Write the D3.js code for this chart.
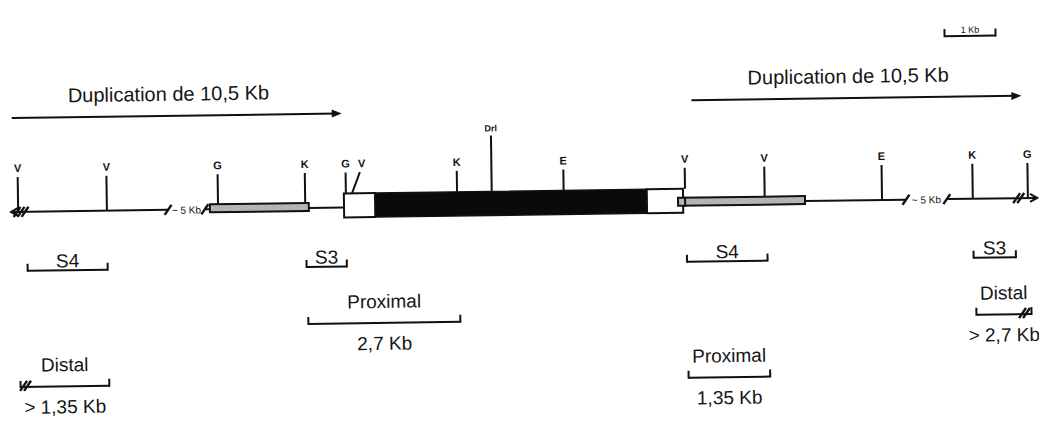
<!DOCTYPE html>
<meta charset="utf-8">
<style>
body { margin: 0; background: #fff; }
text { font-family: "Liberation Sans", Arial, sans-serif; fill: #151515; }
.site { font-size: 11px; font-weight: bold; }
.dup { font-size: 20px; }
.lab { font-size: 19px; }
.small { font-size: 10px; }
</style>
<svg width="1039" height="422"></svg>
<script src="https://d3js.org/d3.v7.min.js"></script>
<script>

// restriction sites along the map (kb)
var siteNames = ["V", "V", "G", "K", "G", "V", "K", "Drl", "E", "V", "V", "E", "K", "G"],
    siteKb    = [0.12, 1.86, 4.04, 5.75, 6.55, 6.67, 8.73, 9.41, 10.82, 13.20, 14.76, 17.06, 18.84, 19.92],
    siteLean  = [0, 0, 0, 0, 0, 0.16, 0, 0, 0, 0, 0, 0, 0, 0],
    siteTall  = [0, 0, 0, 0, 0, 0, 0, 1, 0, 0, 0, 0, 0, 0];

// map pieces (kb)
var lineSegs  = [[0, 3.06], [3.78, 3.88], [5.82, 6.51], [15.55, 17.53], [18.33, 20.06]],
    breakKb   = [3.06, 3.78, 17.53, 18.33],
    breakText = [3.42, 17.93],
    grayBars  = [[3.88, 5.82], [13.06, 15.55]],
    whiteBox  = [[6.51, 7.12], [12.45, 13.16]],
    blackBox  = [[7.12, 12.45]];

// duplications
var dupStart = [0.02, 13.35],
    dupEnd   = [6.49, 19.82],
    dupLabel = ["Duplication de 10,5 Kb", "Duplication de 10,5 Kb"];

// probes S3 / S4
var probeNames = ["S4", "S3", "S4", "S3"],
    probeStart = [0.29, 5.76, 13.22, 18.84],
    probeEnd   = [1.86, 6.55, 14.80, 19.67];

// proximal / distal fragments
var fragNames = ["Proximal", "Distal", "Proximal", "Distal"],
    fragSize  = ["2,7 Kb", "> 1,35 Kb", "1,35 Kb", "> 2,7 Kb"],
    fragStart = [5.78, 0.12, 13.22, 18.88],
    fragEnd   = [8.76, 1.86, 14.82, 19.96],
    fragRow   = [0, 1, 1, 0],
    fragBreak = ["", "left", "", "right"];

var scaleBarKb = [18.33, 19.33];

var svg = d3.select("svg");

var x = d3.scaleLinear().domain([0, 20]).range([12, 1032]),
    row = d3.scaleOrdinal().domain([0, 1]).range([321, 380]);

var lineY = 205, boxTop = 191, boxBot = 215, barTop = 200, barBot = 208;

// the scanned figure is slightly tilted
var g = svg.append("g").attr("transform", "rotate(-0.79,520,205)");

function slash(sel, cx, cy) {
  sel.append("line")
      .attr("x1", cx - 3.5).attr("y1", cy + 5)
      .attr("x2", cx + 3.5).attr("y2", cy - 5)
      .attr("stroke", "#111").attr("stroke-width", 2.4);
}

// main line
g.selectAll(".seg").data(lineSegs).enter().append("line")
    .attr("class", "seg")
    .attr("x1", function(d) { return x(d[0]); })
    .attr("x2", function(d) { return x(d[1]); })
    .attr("y1", lineY).attr("y2", lineY)
    .attr("stroke", "#111").attr("stroke-width", 2);

breakKb.forEach(function(k) { slash(g, x(k), lineY); });

g.selectAll(".brk").data(breakText).enter().append("text")
    .attr("class", "small")
    .attr("text-anchor", "middle")
    .attr("x", function(d) { return x(d); })
    .attr("y", lineY + 4)
    .text("~ 5 Kb");

// left end: arrow + triple break
var lx = x(0) - 1;
g.append("path")
    .attr("d", "M" + (lx + 7) + "," + (lineY - 4) + "L" + lx + "," + lineY + "L" + (lx + 7) + "," + (lineY + 4))
    .attr("fill", "none").attr("stroke", "#111").attr("stroke-width", 2);
[6, 10, 14].forEach(function(o) { slash(g, lx + o, lineY); });

// right end: double break + arrow
var rx = x(20.1);
[x(19.7), x(19.78)].forEach(function(v) { slash(g, v, lineY); });
g.append("path")
    .attr("d", "M" + (rx - 7) + "," + (lineY - 4) + "L" + rx + "," + lineY + "L" + (rx - 7) + "," + (lineY + 4))
    .attr("fill", "none").attr("stroke", "#111").attr("stroke-width", 2);

// gray (duplicated) bars
g.selectAll(".gray").data(grayBars).enter().append("rect")
    .attr("x", function(d) { return x(d[0]); })
    .attr("width", function(d) { return x(d[1]) - x(d[0]); })
    .attr("y", barTop).attr("height", barBot - barTop)
    .attr("fill", "#b4b4b4").attr("stroke", "#111").attr("stroke-width", 2);

// gene boxes
g.selectAll(".blk").data(blackBox).enter().append("rect")
    .attr("x", function(d) { return x(d[0]); })
    .attr("width", function(d) { return x(d[1]) - x(d[0]); })
    .attr("y", boxTop).attr("height", boxBot - boxTop)
    .attr("fill", "#0a0a0a").attr("stroke", "#111").attr("stroke-width", 1.5);

g.selectAll(".wht").data(whiteBox).enter().append("rect")
    .attr("x", function(d) { return x(d[0]); })
    .attr("width", function(d) { return x(d[1]) - x(d[0]); })
    .attr("y", boxTop).attr("height", boxBot - boxTop)
    .attr("fill", "#fff").attr("stroke", "#111").attr("stroke-width", 2);

// gray bar passes over the right white box
g.append("rect")
    .attr("x", x(grayBars[1][0])).attr("width", x(whiteBox[1][1]) - x(grayBars[1][0]) + 2)
    .attr("y", barTop).attr("height", barBot - barTop)
    .attr("fill", "#b4b4b4").attr("stroke", "#111").attr("stroke-width", 2);

// restriction sites
function baseOf(k) {
  var inBox = whiteBox.concat(blackBox).some(function(b) { return k >= b[0] && k <= b[1] + 0.06; });
  if (inBox) return boxTop;
  var onBar = grayBars.some(function(b) { return k >= b[0] && k <= b[1]; });
  return onBar ? barTop : lineY;
}

var sites = g.selectAll(".site").data(siteNames).enter().append("g");

sites.append("line")
    .attr("x1", function(d, i) { return x(siteKb[i]); })
    .attr("y1", function(d, i) { return baseOf(siteKb[i]); })
    .attr("x2", function(d, i) { return x(siteKb[i] + siteLean[i]); })
    .attr("y2", function(d, i) { return siteTall[i] ? 135 : 170; })
    .attr("stroke", "#111").attr("stroke-width", 2);

sites.append("text")
    .attr("class", "site")
    .attr("text-anchor", "middle")
    .attr("x", function(d, i) { return x(siteKb[i] + siteLean[i]) + (siteLean[i] ? 2 : 0); })
    .attr("y", function(d, i) { return siteTall[i] ? 131 : 165; })
    .style("font-size", function(d) { return d === "Drl" ? "9px" : null; })
    .text(function(d) { return d; });

// duplication arrows
var dups = g.selectAll(".dup").data(dupLabel).enter().append("g");

dups.append("line")
    .attr("x1", function(d, i) { return x(dupStart[i]); })
    .attr("x2", function(d, i) { return x(dupEnd[i]) - 4; })
    .attr("y1", function(d, i) { return i ? 102.7 : 111; })
    .attr("y2", function(d, i) { return i ? 102.7 : 111; })
    .attr("stroke", "#111").attr("stroke-width", 2);

dups.append("path")
    .attr("d", function(d, i) {
      var tx = x(dupEnd[i]), ty = i ? 102.7 : 111;
      return "M" + tx + "," + ty + "L" + (tx - 10) + "," + (ty - 4) + "L" + (tx - 10) + "," + (ty + 4) + "Z";
    })
    .attr("fill", "#111");

dups.append("text")
    .attr("class", "dup")
    .attr("text-anchor", "middle")
    .attr("x", function(d, i) { return x((dupStart[i] + dupEnd[i]) / 2) - 8; })
    .attr("y", function(d, i) { return i ? 87.6 : 96; })
    .text(function(d) { return d; });

// bracket helper
function bracket(sel, a, b, y, brk) {
  var x0 = x(a), x1 = x(b);
  sel.append("line").attr("x1", x0).attr("x2", x1).attr("y1", y).attr("y2", y)
      .attr("stroke", "#111").attr("stroke-width", 2);
  if (brk !== "left") sel.append("line").attr("x1", x0).attr("x2", x0).attr("y1", y + 1).attr("y2", y - 7)
      .attr("stroke", "#111").attr("stroke-width", 2);
  if (brk !== "right") sel.append("line").attr("x1", x1).attr("x2", x1).attr("y1", y + 1).attr("y2", y - 7)
      .attr("stroke", "#111").attr("stroke-width", 2);
  if (brk === "left") {
    sel.append("line").attr("x1", x0).attr("x2", x0).attr("y1", y + 1).attr("y2", y - 6)
        .attr("stroke", "#111").attr("stroke-width", 2);
    [3, 7].forEach(function(o) { slash(sel, x0 + o, y - 1); });
  }
  if (brk === "right") {
    sel.append("line").attr("x1", x1).attr("x2", x1).attr("y1", y + 1).attr("y2", y - 7)
        .attr("stroke", "#111").attr("stroke-width", 2);
    [-9, -5].forEach(function(o) { slash(sel, x1 + o, y - 1); });
  }
}

// probes
var probeY = 264;
probeNames.forEach(function(n, i) {
  var p = g.append("g");
  bracket(p, probeStart[i], probeEnd[i], probeY, "");
  p.append("text").attr("class", "lab").attr("text-anchor", "middle")
      .attr("x", x((probeStart[i] + probeEnd[i]) / 2))
      .attr("y", probeY - 3)
      .text(n);
});

// proximal / distal fragments
fragNames.forEach(function(n, i) {
  var f = g.append("g"), y = row(fragRow[i]), cx = x((fragStart[i] + fragEnd[i]) / 2);
  bracket(f, fragStart[i], fragEnd[i], y, fragBreak[i]);
  f.append("text").attr("class", "lab").attr("text-anchor", "middle")
      .attr("x", cx).attr("y", y - 15).text(n);
  f.append("text").attr("class", "lab").attr("text-anchor", "middle")
      .attr("x", cx).attr("y", y + 27).text(fragSize[i]);
});

// scale bar
var sb = g.append("g");
bracket(sb, scaleBarKb[0], scaleBarKb[1], 42, "");
sb.append("text").attr("class", "site").attr("text-anchor", "middle")
    .style("font-size", "9px").style("font-weight", "normal")
    .attr("x", x((scaleBarKb[0] + scaleBarKb[1]) / 2)).attr("y", 39)
    .text("1 Kb");

</script>
